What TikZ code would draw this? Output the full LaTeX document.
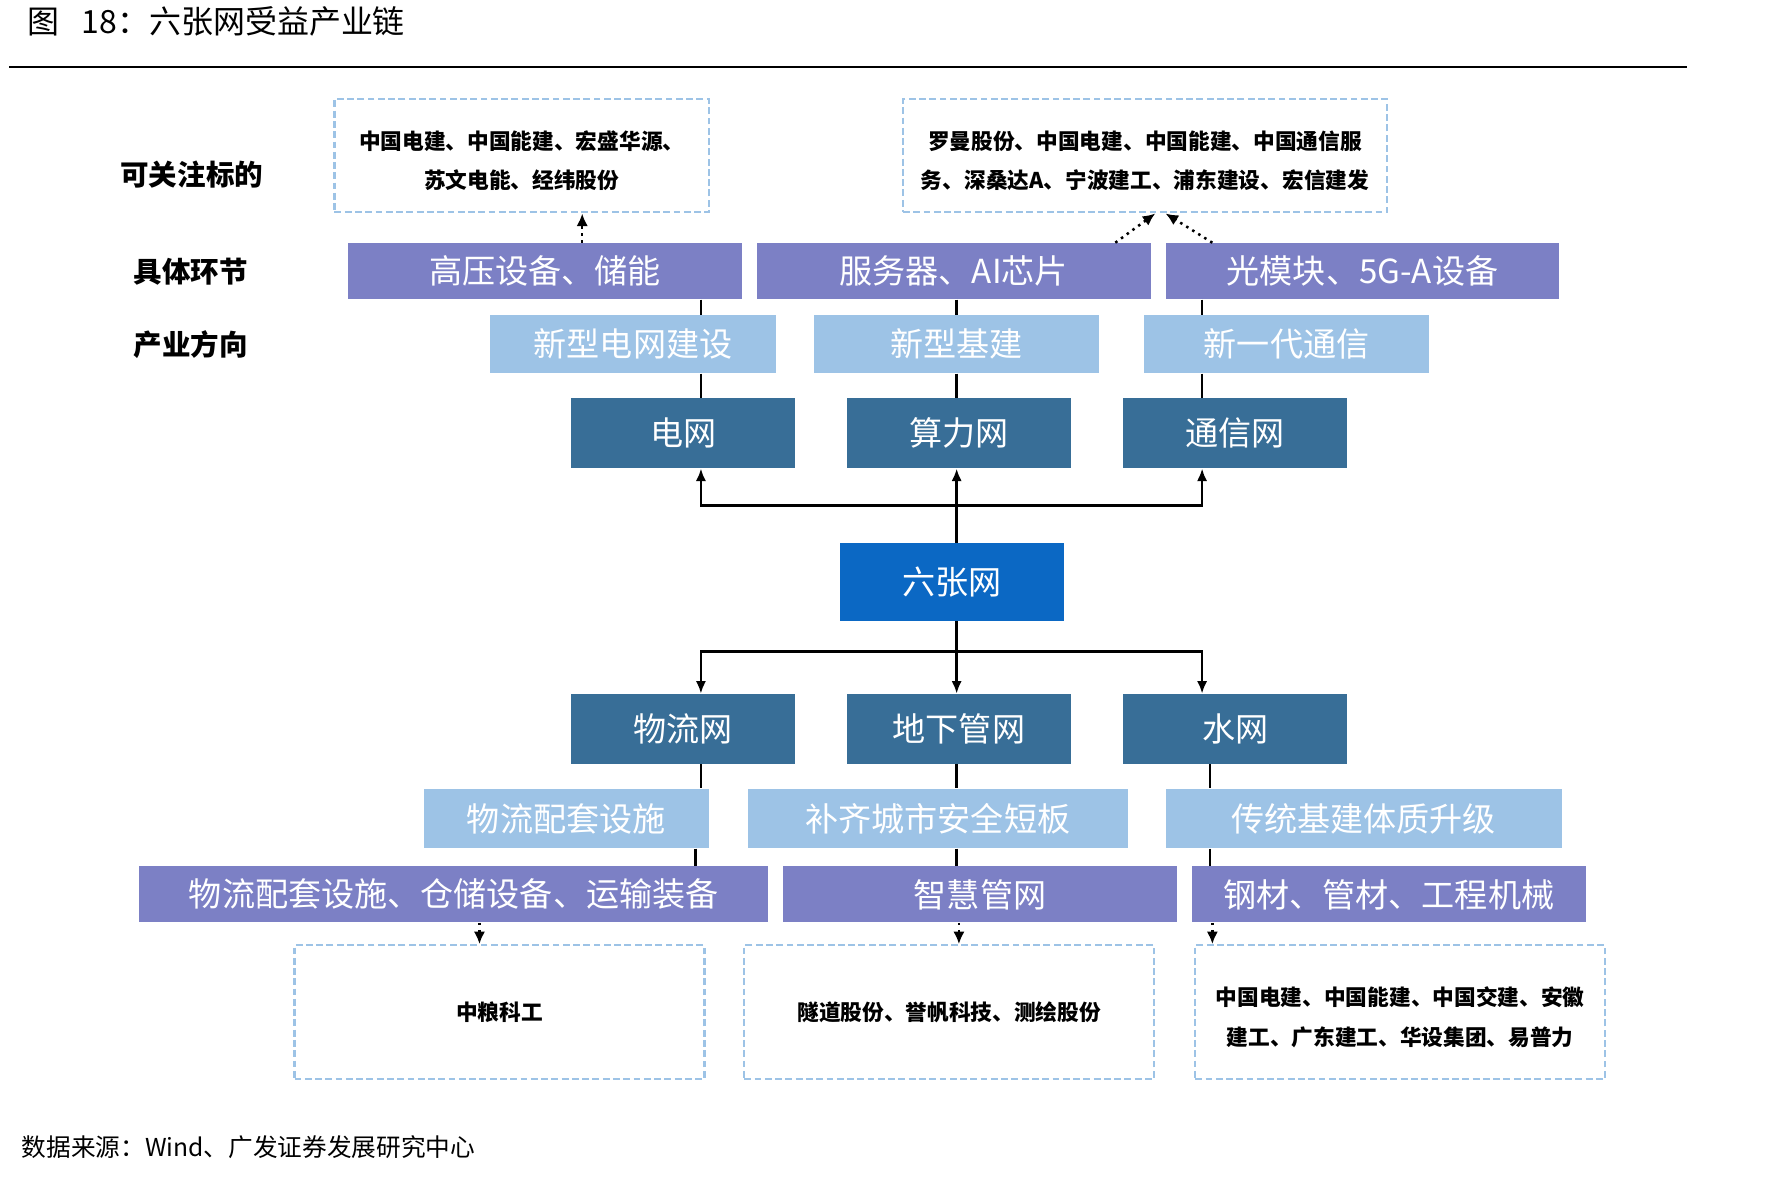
\documentclass[tikz,border=0pt]{standalone}
\usepackage{fontspec}
\setmainfont{Noto Sans CJK SC}
\usetikzlibrary{arrows.meta}
\definecolor{morado}{RGB}{124,128,197}
\definecolor{celeste}{RGB}{157,195,230}
\definecolor{azulosc}{RGB}{56,110,151}
\definecolor{azul}{RGB}{11,104,196}
\newcommand\bajar{\rule{0pt}{12.5pt}}
\begin{document}
\begin{tikzpicture}[x=0.5pt, y=-0.5pt,
  caja/.style={inner sep=0pt, text=white, font=\fontsize{14.5}{17}\selectfont},
  eslabon/.style={caja, fill=morado, minimum width=172.5pt, minimum height=24.5pt},
  rumbo/.style={caja, fill=celeste, minimum height=25.5pt},
  red/.style={caja, fill=azulosc, minimum width=98pt, minimum height=30.5pt},
  meta/.style={draw=celeste, line width=1pt, dash pattern=on 3pt off 1.5pt, align=center,
    inner sep=0pt, minimum height=49.5pt, font=\fontsize{9.5}{17.5}\selectfont\bfseries},
  etiqueta/.style={font=\fontsize{12.5}{15}\selectfont\bfseries},
  linea/.style={line width=1.2pt},
  flecha/.style={line width=1.2pt, -{Latex[length=5.5pt,width=4.5pt]}},
  punteada/.style={line width=1.1pt, dotted, -{Latex[length=5.5pt,width=5pt]}}]
  \useasboundingbox (0,0) rectangle (1568,1031);
  % el titulo y la fuente
  \node[anchor=west, font=\fontsize{14}{17}\selectfont] (titulo) at (17,19) {图\hspace{0.7em}18：六张网受益产业链};
  \draw[line width=1pt] (8,59) -- (1478,59);
  \node[anchor=west, font=\fontsize{10.8}{13}\selectfont] (fuente) at (12,1005) {数据来源：Wind、广发证券发展研究中心};
  % las etiquetas de la izquierda
  \node[etiqueta] (lab1) at (168,153) {可关注标的};
  \node[etiqueta] (lab2) at (167,238) {具体环节};
  \node[etiqueta] (lab3) at (167,302) {产业方向};
  % los de arriba
  \node[meta, minimum width=164pt] (meta1) at (457,136.5) {\bajar 中国电建、中国能建、宏盛华源、\\苏文电能、经纬股份};
  \node[meta, minimum width=212pt] (meta2) at (1003,136.5) {\bajar 罗曼股份、中国电建、中国能建、中国通信服\\务、深桑达A、宁波建工、浦东建设、宏信建发};
  \node[eslabon] (esl1) at (477.5,237.5) {高压设备、储能};
  \node[eslabon] (esl2) at (835.5,237.5) {服务器、AI芯片};
  \node[eslabon] (esl3) at (1193.5,237.5) {光模块、5G-A设备};
  \node[rumbo, minimum width=125.5pt] (dir1) at (554.5,301.5) {新型电网建设};
  \node[rumbo, minimum width=125pt] (dir2) at (838,301.5) {新型基建};
  \node[rumbo, minimum width=125pt] (dir3) at (1127,301.5) {新一代通信};
  \node[red] (red1) at (598.5,379.5) {电网};
  \node[red] (red2) at (840,379.5) {算力网};
  \node[red] (red3) at (1082,379.5) {通信网};
  % el centro
  \node[caja, fill=azul, minimum width=98pt, minimum height=34pt] (seis) at (834,510) {六张网};
  % los de abajo
  \node[red] (red4) at (598.5,638.5) {物流网};
  \node[red] (red5) at (840,638.5) {地下管网};
  \node[red] (red6) at (1082,638.5) {水网};
  \node[rumbo, minimum width=125pt, minimum height=26pt] (dir4) at (496,717) {物流配套设施};
  \node[rumbo, minimum width=166.5pt, minimum height=26pt] (dir5) at (821.5,717) {补齐城市安全短板};
  \node[rumbo, minimum width=173.5pt, minimum height=26pt] (dir6) at (1194.5,717) {传统基建体质升级};
  \node[eslabon, minimum width=275.5pt] (esl4) at (397.5,783.5) {物流配套设施、仓储设备、运输装备};
  \node[eslabon] (esl5) at (858.5,783.5) {智慧管网};
  \node[eslabon] (esl6) at (1216.5,783.5) {钢材、管材、工程机械};
  \node[meta, minimum width=179.5pt, minimum height=58.5pt] (meta3) at (437.5,886.5) {中粮科工};
  \node[meta, minimum width=179.5pt, minimum height=58.5pt] (meta4) at (831.5,886.5) {隧道股份、誉帆科技、测绘股份};
  \node[meta, minimum width=179.5pt, minimum height=58.5pt] (meta5) at (1226.5,886.5) {\bajar 中国电建、中国能建、中国交建、安徽\\建工、广东建工、华设集团、易普力};
  % puntos de paso
  \coordinate (xa) at (614,443);
  \coordinate (xb) at (838,443);
  \coordinate (xc) at (1053,443);
  \coordinate (ya) at (614,571);
  \coordinate (yb) at (838,571);
  \coordinate (yc) at (1053,571);
  \coordinate (za) at (609,750);
  \coordinate (zc) at (1060,750);
  % lineas de arriba
  \draw[linea] (esl1.south -| xa) -- (dir1.north -| xa);
  \draw[linea] (dir1.south -| xa) -- (red1.north -| xa);
  \draw[linea] (esl2.south -| xb) -- (dir2.north -| xb);
  \draw[linea] (dir2.south -| xb) -- (red2.north -| xb);
  \draw[linea] (esl3.south -| xc) -- (dir3.north -| xc);
  \draw[linea] (dir3.south -| xc) -- (red3.north -| xc);
  % las flechas del centro
  \draw[linea] (seis.north -| xb) -- (xb);
  \draw[flecha] (xb) -- (red2.south -| xb);
  \draw[flecha] (xb) -- (xa) -- (red1.south -| xa);
  \draw[flecha] (xb) -- (xc) -- (red3.south -| xc);
  \draw[linea] (seis.south -| yb) -- (yb);
  \draw[flecha] (yb) -- (red5.north -| yb);
  \draw[flecha] (yb) -- (ya) -- (red4.north -| ya);
  \draw[flecha] (yb) -- (yc) -- (red6.north -| yc);
  % lineas de abajo
  \draw[linea] (red4.south -| ya) -- (dir4.north -| ya);
  \draw[linea] (dir4.south -| za) -- (esl4.north -| za);
  \draw[linea] (red5.south -| yb) -- (dir5.north -| yb);
  \draw[linea] (dir5.south -| yb) -- (esl5.north -| yb);
  \draw[linea] (red6.south -| zc) -- (dir6.north -| zc);
  \draw[linea] (dir6.south -| zc) -- (esl6.north -| zc);
  % las punteadas
  \coordinate (pa) at (510,0);
  \coordinate (pb) at (977,0);
  \coordinate (pc) at (1062,0);
  \coordinate (qb) at (1012,0);
  \coordinate (qc) at (1021,0);
  \coordinate (pd) at (420,0);
  \coordinate (pe) at (840,0);
  \coordinate (pf) at (1062,0);
  \draw[punteada] (esl1.north -| pa) -- (meta1.south -| pa);
  \draw[punteada] (esl2.north -| pb) -- (meta2.south -| qb);
  \draw[punteada] (esl3.north -| pc) -- (meta2.south -| qc);
  \draw[punteada] (esl4.south -| pd) -- (meta3.north -| pd);
  \draw[punteada] (esl5.south -| pe) -- (meta4.north -| pe);
  \draw[punteada] (esl6.south -| pf) -- (meta5.north -| pf);
\end{tikzpicture}
\end{document}
